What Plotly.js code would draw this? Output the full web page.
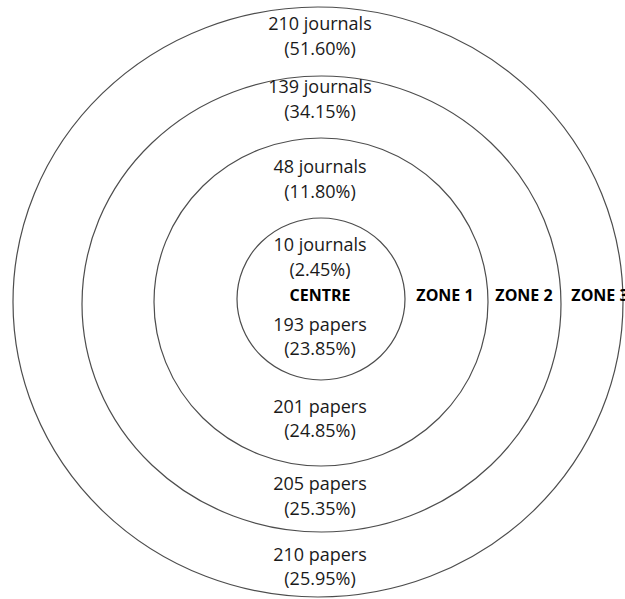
<!DOCTYPE html>
<html>
<head>
<meta charset="utf-8">
<script src="https://cdn.plot.ly/plotly-3.0.1.min.js"></script>
<style>html,body{margin:0;padding:0;background:#fff;}#chart{width:625px;height:599px;}</style>
</head>
<body>
<div id="chart"></div>
<script>
// ---- data ----
const zones = ['CENTRE', 'ZONE 1', 'ZONE 2', 'ZONE 3'];
const journals = [10, 48, 139, 210];
const journalPct = ['2.45%', '11.80%', '34.15%', '51.60%'];
const papers = [193, 201, 205, 210];
const paperPct = ['23.85%', '24.85%', '25.35%', '25.95%'];

// ---- layout geometry (pixel-like plot units) ----
const ringBox = [ // x0, x1, y0, y1
  [237, 405, 218, 380],
  [154, 488, 138, 466],
  [82, 561, 76, 532],
  [13, 623, 7, 597]
];
const cx = 320;
const journalY = [[246, 271], [168, 193], [88, 113], [25, 50]];
const paperY = [[326, 350], [408, 432], [485, 510], [556, 580]];
const centreLabelY = 297;
const zoneLabelX = [null, 445, 524, 600];

const FONT = '"Open Sans", sans-serif';
const TXT = '#1a1a1a';

const xs = [], ys = [], ts = [];
for (let i = 0; i < zones.length; i++) {
  xs.push(cx, cx); ys.push(journalY[i][0], journalY[i][1]);
  ts.push(journals[i] + ' journals', '(' + journalPct[i] + ')');
  xs.push(cx, cx); ys.push(paperY[i][0], paperY[i][1]);
  ts.push(papers[i] + ' papers', '(' + paperPct[i] + ')');
}
const bx = [], by = [], bt = [];
bx.push(cx); by.push(centreLabelY); bt.push('<b>' + zones[0] + '</b>');
for (let i = 1; i < zones.length; i++) {
  bx.push(zoneLabelX[i]); by.push(centreLabelY); bt.push('<b>' + zones[i] + '</b>');
}

const traces = [
  {x: xs, y: ys, text: ts, mode: 'text', type: 'scatter', textposition: 'middle center',
   textfont: {family: FONT, size: 18, color: TXT}, hoverinfo: 'skip', showlegend: false, cliponaxis: false},
  {x: bx, y: by, text: bt, mode: 'text', type: 'scatter', textposition: 'middle center',
   textfont: {family: FONT, size: 16, color: '#000'}, hoverinfo: 'skip', showlegend: false, cliponaxis: false}
];

const shapes = ringBox.map(b => ({
  type: 'circle', xref: 'x', yref: 'y', x0: b[0], x1: b[1], y0: b[2], y1: b[3],
  line: {color: '#4d4d4d', width: 1.2}, fillcolor: 'rgba(0,0,0,0)', layer: 'below'
}));

const layout = {
  width: 625, height: 599,
  margin: {l: 0, r: 0, t: 0, b: 0},
  paper_bgcolor: '#fff', plot_bgcolor: '#fff',
  xaxis: {range: [0, 625], visible: false, fixedrange: true},
  yaxis: {range: [599, 0], visible: false, fixedrange: true},
  shapes: shapes,
  showlegend: false
};

Plotly.newPlot('chart', traces, layout, {staticPlot: true, displayModeBar: false});
</script>
</body>
</html>
